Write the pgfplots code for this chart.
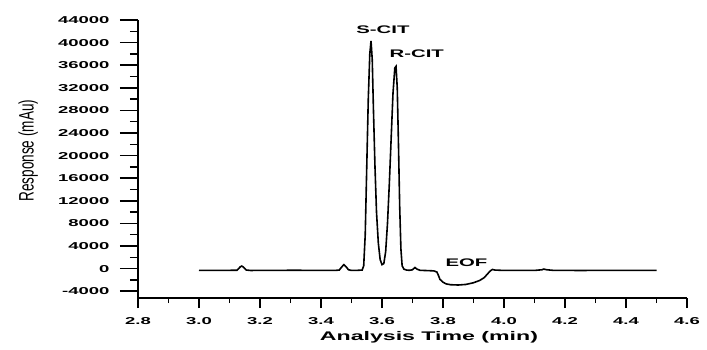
\documentclass[border=0pt]{standalone}
\usepackage{pgfplots}
\pgfplotsset{compat=1.18}
\usepackage{fontspec}
\setmainfont{Liberation Sans}
\newcommand\wide[1]{\scalebox{1.85}[1]{#1}}
\pgfplotsset{
  common/.style={
    scale only axis,
    width=549pt, height=278pt,
    xmin=2.8, xmax=4.6, ymin=-5200, ymax=44000,
    axis lines=left,
    axis line style={line width=1.9pt,-},
    tick align=outside,
    every tick/.style={line width=1.5pt,black},
    scaled y ticks=false, scaled x ticks=false,
    /pgf/number format/assume math mode=true,
    clip=false,
  }
}
\begin{document}
\begin{tikzpicture}
\begin{axis}[
  common,
  xtick={2.8,3.0,3.2,3.4,3.6,3.8,4.0,4.2,4.4,4.6},
  ytick=\empty,
  minor x tick num=1,
  major tick length=10pt, minor tick length=5pt,
  xticklabel={\wide{\bfseries\fontsize{10}{12}\selectfont\pgfmathprintnumber[fixed,fixed zerofill,precision=1]{\tick}}},
  xticklabel style={yshift=-6pt},
  xlabel={\wide{\bfseries\fontsize{12.5}{14}\selectfont Analysis Time (min)}},
  xlabel style={at={(axis description cs:0.53,-0.14)},anchor=center},
]
\addplot[black,line width=1.6pt] coordinates {
(3.00,-300) (3.05,-320) (3.10,-300) (3.125,-280) (3.135,300) (3.14,450) (3.145,300)
(3.155,-250) (3.17,-330) (3.20,-300) (3.25,-320) (3.30,-290) (3.35,-300) (3.40,-310)
(3.45,-300) (3.46,-250) (3.468,300) (3.475,700) (3.482,350) (3.49,-200) (3.50,-320)
(3.52,-300) (3.535,-250) (3.540,500) (3.545,6000) (3.550,18000) (3.555,30000)
(3.560,38000) (3.564,40300) (3.568,37000) (3.572,28000) (3.577,18000) (3.582,10000)
(3.588,4500) (3.594,1600) (3.600,700) (3.606,900) (3.612,3000) (3.618,8000)
(3.624,15000) (3.630,23000) (3.636,31000) (3.642,35500) (3.646,35800) (3.650,32000)
(3.654,22000) (3.658,11000) (3.662,3500) (3.666,500) (3.672,-100) (3.68,-250)
(3.69,-300) (3.700,-200) (3.708,200) (3.715,-100) (3.725,-300) (3.75,-350) (3.77,-400)
(3.78,-600) (3.785,-1200) (3.79,-1900) (3.80,-2400) (3.81,-2700) (3.825,-2850)
(3.85,-2900) (3.875,-2800) (3.90,-2500) (3.92,-2100) (3.935,-1600) (3.945,-1000)
(3.955,-400) (3.962,-150) (3.97,-250) (3.99,-300) (4.05,-300) (4.10,-320) (4.125,-200)
(4.13,-80) (4.14,-200) (4.16,-300) (4.25,-330) (4.35,-300) (4.45,-310) (4.50,-300)
};
\node at (axis cs:3.603,42350) {\wide{\bfseries\fontsize{11}{13}\selectfont S-CIT}};
\node at (axis cs:3.714,38100) {\wide{\bfseries\fontsize{11}{13}\selectfont R-CIT}};
\node at (axis cs:3.877,1000) {\wide{\bfseries\fontsize{11}{13}\selectfont EOF}};
\end{axis}
\begin{axis}[
  common,
  hide x axis,
  ytick={-4000,0,4000,8000,12000,16000,20000,24000,28000,32000,36000,40000,44000},
  minor y tick num=1,
  major tick length=18pt, minor tick length=8pt,
  yticklabel={\wide{\bfseries\fontsize{10}{12}\selectfont\pgfmathprintnumber[1000 sep={}]{\tick}}},
  yticklabel style={xshift=-7pt},
  ylabel={\scalebox{1.2}[1.85]{\fontsize{11.3}{13}\selectfont Response (mAu)}},
  ylabel style={at={(axis description cs:-0.2,0.53)},anchor=center},
]
\end{axis}
\path (current axis.south west) ++(-138pt,-51pt) rectangle ++(707pt,349pt);
\end{tikzpicture}
\end{document}
